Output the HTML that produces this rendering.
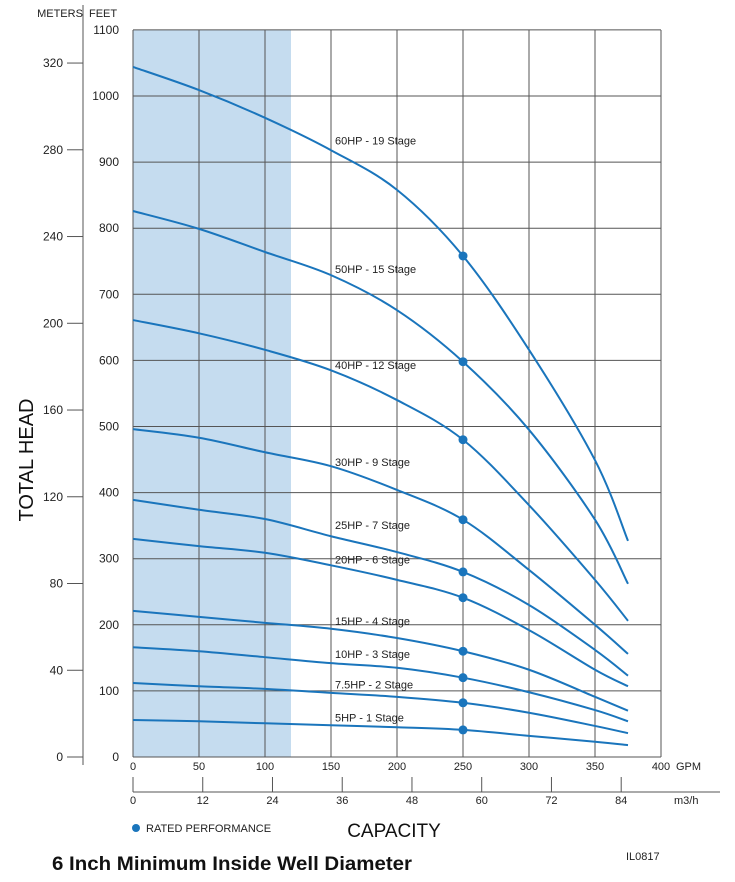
<!DOCTYPE html>
<html><head><meta charset="utf-8"><style>
body{margin:0;background:#fff;}
svg{display:block;font-family:"Liberation Sans",sans-serif;}
</style></head><body>
<svg id="chart" width="735" height="882" viewBox="0 0 735 882">
<rect x="133" y="30" width="158" height="727" fill="#c5dcef"/>
<g id="grid"></g>
<g id="axes"></g>
<g id="curves"></g>
<text x="33" y="460" font-size="20" text-anchor="middle" transform="rotate(-90 33 460)" fill="#111">TOTAL HEAD</text>
<text x="60" y="17" font-size="11" text-anchor="middle" fill="#222">METERS</text>
<text x="89" y="17" font-size="11" fill="#222">FEET</text>
<text x="676" y="770" font-size="11" fill="#222">GPM</text>
<text x="674" y="804" font-size="11" fill="#222">m3/h</text>
<circle cx="136" cy="828" r="4" fill="#1a75bc"/>
<text x="146" y="832" font-size="11" fill="#222">RATED PERFORMANCE</text>
<text x="394" y="837" font-size="19" text-anchor="middle" fill="#111">CAPACITY</text>
<text x="52" y="870" font-size="19" font-weight="bold" fill="#111" textLength="360" lengthAdjust="spacingAndGlyphs">6 Inch Minimum Inside Well Diameter</text>
<text x="626" y="860" font-size="11" fill="#222">IL0817</text>
</svg>
<script>
const gpm = [0,50,100,150,200,250,300,350,375];
const names = ["60HP - 19 Stage","50HP - 15 Stage","40HP - 12 Stage","30HP - 9 Stage","25HP - 7 Stage","20HP - 6 Stage","15HP - 4 Stage","10HP - 3 Stage","7.5HP - 2 Stage","5HP - 1 Stage"];
const hp60 = [1044,1009,967,918,858,758,616,449,327];
const hp50 = [826,799,764,729,676,598,495,359,262];
const hp40 = [661,641,616,585,540,480,381,268,206];
const hp30 = [496,483,461,440,404,359,283,200,156];
const hp25 = [389,374,360,334,310,280,230,162,123];
const hp20 = [330,319,309,290,268,241,192,132,107];
const hp15 = [221,212,203,194,180,160,132,91,70];
const hp10 = [166,160,151,142,135,120,98,71,54];
const hp75 = [112,107,103,97,91,82,67,47,36];
const hp5 = [56,54,51,48,45,41,32,23,18];
const ratedGpm = 250;
const labelHead = [933,738,593,446,351,299,206,156,110,60];
const feetTicks = [0,100,200,300,400,500,600,700,800,900,1000,1100];
const meterTicks = [0,40,80,120,160,200,240,280,320];
const gpmTicks = [0,50,100,150,200,250,300,350,400];
const m3hTicks = [0,12,24,36,48,60,72,84];
const series = [hp60,hp50,hp40,hp30,hp25,hp20,hp15,hp10,hp75,hp5];

const NS="http://www.w3.org/2000/svg";
const X = g => 133 + g*1.32;
const Y = f => 757 - f*0.661;
function mk(tag, attrs, parent, txt){const e=document.createElementNS(NS,tag);for(const k in attrs)e.setAttribute(k,attrs[k]);if(txt!==undefined)e.textContent=txt;parent.appendChild(e);return e;}
const grid=document.getElementById('grid'), axes=document.getElementById('axes'), curves=document.getElementById('curves');

feetTicks.forEach(f=>{
  const l=mk('line',{x1:133,x2:661,y1:Y(f),y2:Y(f),stroke:'#555','stroke-width':1},grid);
  
  
  const t=mk('text',{x:119,y:Y(f)+4,'font-size':12,'text-anchor':'end',fill:'#222'},axes,String(f));
  
  
});
gpmTicks.forEach(g=>{
  const l=mk('line',{x1:X(g),x2:X(g),y1:30,y2:757,stroke:'#555','stroke-width':1},grid);
  
  
  const t=mk('text',{x:X(g),y:770,'font-size':11,'text-anchor':'middle',fill:'#222'},axes,String(g));
  
  
});
const ma=mk('line',{x1:83,x2:83,y1:5,y2:765,stroke:'#555','stroke-width':1},axes);


meterTicks.forEach(m=>{
  const y=Y(m*3.2808);
  const l=mk('line',{x1:67,x2:83,y1:y,y2:y,stroke:'#555','stroke-width':1},axes);
  
  
  const t=mk('text',{x:63,y:y+4,'font-size':12,'text-anchor':'end',fill:'#222'},axes,String(m));
  
  
});
const m3l=mk('line',{x1:133,x2:720,y1:792,y2:792,stroke:'#555','stroke-width':1},axes);


m3hTicks.forEach(m=>{
  const x=X(m*4.4029);
  const l=mk('line',{x1:x,x2:x,y1:777,y2:792,stroke:'#555','stroke-width':1},axes);
  
  
  const t=mk('text',{x:x,y:804,'font-size':11,'text-anchor':'middle',fill:'#222'},axes,String(m));
  
  
});
function smooth(pts){
  let d='M'+pts[0][0]+','+pts[0][1];
  for(let i=0;i<pts.length-1;i++){
    const p0=pts[i-1]||pts[i],p1=pts[i],p2=pts[i+1],p3=pts[i+2]||p2;
    const c1=[p1[0]+(p2[0]-p0[0])/6,p1[1]+(p2[1]-p0[1])/6];
    const c2=[p2[0]-(p3[0]-p1[0])/6,p2[1]-(p3[1]-p1[1])/6];
    d+=' C'+c1+' '+c2+' '+p2;
  }
  return d;
}
series.forEach((s,i)=>{
  const pts=s.map((h,j)=>[X(gpm[j]),Y(h)]);
  const p=mk('path',{d:smooth(pts),fill:'none',stroke:'#1a75bc','stroke-width':2},curves);
  
  
  const idx=gpm.indexOf(ratedGpm);
  const c=mk('circle',{cx:X(ratedGpm),cy:Y(s[idx]),r:4.5,fill:'#1a75bc'},curves);
  
  
  const t=mk('text',{x:335,y:Y(labelHead[i])+4,'font-size':11,fill:'#222'},curves,names[i]);
  
  
});
</script>
</body></html>
